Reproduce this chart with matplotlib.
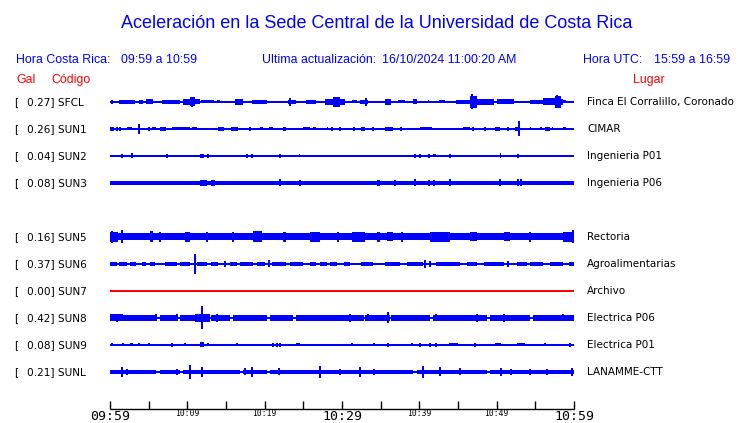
import matplotlib
matplotlib.use("Agg")
import matplotlib.pyplot as plt

# station table (row order, SUN4 slot left empty)
codes = ["SFCL", "SUN1", "SUN2", "SUN3", "SUN5", "SUN6", "SUN7", "SUN8", "SUN9", "SUNL"]
gal = [0.27, 0.26, 0.04, 0.08, 0.16, 0.37, 0.00, 0.42, 0.08, 0.21]
places = ["Finca El Corralillo, Coronado", "CIMAR", "Ingenieria P01", "Ingenieria P06",
          "Rectoria", "Agroalimentarias", "Archivo", "Electrica P06", "Electrica P01", "LANAMME-CTT"]

# trace envelopes: minutes after 09:59, relative amplitude
base_amp = [1.0, 0.6, 0.6, 1.8, 3.5, 0.7, 0.0, 1.2, 0.6, 1.0]

sfcl_blocks = [(0.1, 0.4, 2), (1.1, 3.2, 2), (3.7, 4.3, 2), (4.7, 5.6, 2.5), (6.7, 9.0, 2),
               (9.5, 10.3, 3), (10.3, 11.0, 4.5), (11.0, 11.6, 2.5), (11.8, 13.4, 1.5),
               (13.8, 14.2, 1.5), (16.2, 17.2, 3), (18.3, 20.3, 2), (23.0, 24.1, 2),
               (25.4, 26.7, 2), (27.8, 28.9, 3), (28.9, 29.7, 5), (29.7, 30.4, 3),
               (31.3, 31.9, 1.5), (32.3, 33.4, 2), (35.6, 36.4, 3), (37.3, 38.1, 1.5),
               (39.2, 39.7, 2.5), (41.1, 41.3, 1.5), (42.5, 43.3, 1.5), (44.8, 46.6, 2),
               (46.6, 47.4, 6), (47.4, 49.6, 3), (50.0, 52.2, 2.5), (54.3, 56.0, 2),
               (56.0, 57.5, 3.5), (57.5, 58.3, 6), (58.3, 58.6, 3), (58.6, 59.0, 1.5)]
sfcl_spikes = [(10.6, 4.7), (23.3, 4.3), (29.3, 5), (33.1, 4), (46.8, 7.5), (57.8, 6.5)]

sun1_blocks = [(2.2, 2.8, 1.5), (5.4, 6.0, 1.5), (6.5, 7.3, 2), (8.0, 10.3, 1.5), (10.6, 11.2, 1.5),
               (14.0, 14.7, 2), (15.7, 16.6, 2), (19.4, 19.8, 1.5), (20.5, 21.1, 1.5),
               (22.4, 22.8, 2), (25.0, 25.9, 1.5), (26.3, 26.7, 1.5), (28.0, 28.2, 1.5),
               (32.5, 33.0, 2), (35.6, 36.6, 2), (37.5, 37.7, 2), (40.1, 41.6, 1.5),
               (45.7, 46.6, 1.5), (49.8, 50.4, 2), (52.4, 53.0, 2), (54.3, 54.5, 1.5),
               (55.6, 55.8, 1.5), (56.3, 56.9, 2), (57.1, 57.3, 1.5), (58.6, 59.0, 1.5)]
sun1_spikes = [(0.1, 2), (0.4, 2), (0.9, 2), (1.3, 2), (3.7, 5), (5.0, 2), (18.1, 2), (28.7, 2),
               (29.7, 2), (31.6, 2), (34.05, 2), (47.0, 2), (48.5, 2), (51.5, 2), (52.9, 7.5)]

sun2_blocks = [(11.6, 12.1, 2), (24.4, 24.6, 1.5), (41.8, 42.2, 1.5), (50.4, 50.6, 2.5)]
sun2_spikes = [(1.6, 2), (2.9, 2.5), (7.4, 2), (12.7, 2), (17.7, 2), (18.3, 2), (22.0, 2),
               (39.4, 2), (40.1, 2), (41.3, 2), (44.0, 2), (52.8, 2)]

sun3_blocks = [(11.6, 12.5, 3), (13.1, 13.6, 3), (34.5, 34.9, 3)]
sun3_spikes = [(22.0, 3.5), (24.6, 3), (36.9, 3), (39.4, 3.5), (41.3, 3), (41.9, 3),
               (44.0, 3.5), (50.4, 3.5), (52.8, 3.5), (53.2, 3.5)]

sun5_blocks = [(0.0, 1.0, 5), (5.2, 5.6, 5.5), (9.7, 10.3, 5), (18.5, 19.6, 5.5), (22.4, 22.8, 5),
               (25.9, 27.2, 5), (31.3, 33.0, 5), (34.5, 34.9, 5), (35.8, 36.6, 4.5),
               (41.4, 44.0, 5), (46.6, 47.4, 4.5), (50.9, 51.7, 4.5), (58.6, 60.0, 5)]
sun5_spikes = [(0.2, 6), (1.6, 6.5), (6.5, 5), (12.5, 5), (15.9, 5), (29.5, 5), (37.7, 5),
               (54.3, 5), (59.9, 6.5)]

sun6_blocks = [(0.0, 0.9, 2), (1.1, 2.2, 2), (2.6, 3.4, 2), (4.1, 4.7, 2), (5.2, 5.8, 2),
               (7.1, 8.6, 2), (9.1, 10.3, 2), (11.2, 12.5, 2), (13.1, 14.0, 2), (15.5, 16.4, 2),
               (16.8, 18.5, 2), (19.0, 20.0, 2), (20.9, 22.8, 2), (23.3, 25.0, 2), (25.9, 26.7, 2),
               (27.2, 28.0, 2), (28.4, 29.3, 2), (30.2, 31.0, 2), (32.5, 34.0, 2), (35.6, 37.5, 2),
               (38.4, 40.5, 2), (42.2, 45.3, 2), (46.1, 47.4, 2), (48.3, 50.9, 2), (52.6, 53.9, 2),
               (54.3, 56.0, 2), (56.9, 58.6, 2), (59.3, 60.0, 2)]
sun6_spikes = [(11.0, 10), (14.9, 3), (20.5, 3.5), (40.7, 4), (41.4, 3), (51.5, 3)]

sun7_blocks = []
sun7_spikes = []

sun8_blocks = [(0.0, 1.7, 3.5), (1.7, 6.0, 2.6), (6.5, 8.6, 2.6), (9.1, 11.0, 3), (11.0, 12.9, 4),
               (13.1, 15.5, 2.6), (15.9, 20.3, 2.6), (20.7, 23.7, 2.6), (24.1, 32.8, 2.6),
               (33.0, 36.2, 2.6), (36.4, 41.4, 2.6), (41.8, 48.7, 2.6), (49.1, 54.3, 2.6),
               (54.7, 60.0, 2.6)]
sun8_spikes = [(0.9, 4), (6.0, 3.5), (8.6, 3.5), (11.9, 11.5), (13.8, 4), (31.0, 4), (33.4, 3.5),
               (36.0, 5.5), (42.2, 3.5), (47.4, 4), (50.9, 4), (58.6, 3.5)]

sun9_blocks = [(2.6, 3.0, 1.5), (11.6, 12.1, 2.5), (24.1, 24.6, 1.5), (43.8, 45.0, 1.5),
               (49.8, 50.6, 1.5), (52.6, 53.7, 1.5)]
sun9_spikes = [(0.2, 1.5), (1.7, 1.5), (3.7, 1.5), (5.0, 1.5), (8.0, 2), (9.7, 1.5), (12.7, 1.5),
               (16.4, 1.5), (21.1, 2), (21.6, 2), (22.0, 2), (31.3, 1.5), (34.1, 1.5), (36.0, 2),
               (39.0, 1.5), (40.1, 2), (41.4, 2), (42.2, 2), (47.2, 2), (56.3, 1.5), (59.5, 2)]

sunl_blocks = [(0.0, 6.0, 2), (6.5, 9.1, 2), (9.5, 16.8, 2), (17.2, 20.3, 2), (20.7, 29.7, 2),
               (29.7, 39.2, 2), (39.7, 48.7, 2), (49.1, 60.0, 2)]
sunl_spikes = [(1.6, 5), (2.2, 3), (8.6, 3), (10.3, 7), (11.9, 5), (17.5, 3.5), (18.3, 5),
               (21.8, 3.5), (27.2, 6), (29.7, 3), (32.3, 5), (34.1, 3), (40.5, 6), (42.7, 4.5),
               (45.3, 3.5), (50.6, 4), (51.9, 3), (54.3, 3), (56.5, 3), (59.7, 4)]

blocks = [sfcl_blocks, sun1_blocks, sun2_blocks, sun3_blocks, sun5_blocks,
          sun6_blocks, sun7_blocks, sun8_blocks, sun9_blocks, sunl_blocks]
spikes = [sfcl_spikes, sun1_spikes, sun2_spikes, sun3_spikes, sun5_spikes,
          sun6_spikes, sun7_spikes, sun8_spikes, sun9_spikes, sunl_spikes]

tick_minutes = list(range(0, 61, 5))
tick_labels = {0: "09:59", 10: "10:09", 20: "10:19", 30: "10:29", 40: "10:39", 50: "10:49", 60: "10:59"}

W, H = 740, 423
X0, X1 = 110, 574      # pixel span of the hour
ROW0, ROWH = 102, 27   # first trace centre and row spacing
ppm = (X1 - X0) / 60.0
PX = 0.72              # one pixel in points

fig = plt.figure(figsize=(W / 100, H / 100), dpi=100)
ax = fig.add_axes([0, 0, 1, 1])
ax.set_xlim(-X0 / ppm, 60 + (W - X1) / ppm)
ax.set_ylim((H - ROW0) / ROWH, -ROW0 / ROWH)
ax.axis("off")

BLUE = "#0000ff"
amp_scale = 1.0 / ROWH

for i, code in enumerate(codes):
    row = i + (1 if i >= 4 else 0)
    if code == "SUN7":
        ax.hlines(row, 0, 60, color="red", lw=2 * PX, antialiased=False)
        continue
    b = base_amp[i] * amp_scale
    if base_amp[i] < 0.8:
        ax.hlines(row, 0, 60, color=BLUE, lw=2 * PX, antialiased=False)
    else:
        ax.bar(0, 2 * b, width=60, bottom=row - b, align="edge", color=BLUE, lw=0,
               antialiased=False)
    for t0, t1, a in blocks[i]:
        a = a * amp_scale
        ax.bar(t0, 2 * a, width=max(t1 - t0, 0.12), bottom=row - a, align="edge",
               color=BLUE, lw=0, antialiased=False)
    for t, a in spikes[i]:
        a = a * amp_scale
        ax.vlines(t, row - a, row + a, color=BLUE, lw=2 * PX, antialiased=False)

# time axis
axis_y = (409 - ROW0) / ROWH
ax.hlines(axis_y, 0, 60, color="black", lw=1.0)
ax.vlines(tick_minutes, axis_y - 8 / ROWH, axis_y, color="black", lw=1.0)
for m, lab in tick_labels.items():
    big = m in (0, 30, 60)
    ax.text(m, axis_y + (1 if big else 0) / ROWH, lab, ha="center", va="top",
            family="DejaVu Sans Mono", fontsize=9.5 if big else 5.8)


def fx(x):
    return x / W


def fy(y):
    return 1 - y / H


head = dict(va="center", color=BLUE, family="Liberation Sans", fontsize=8.9)
fig.text(fx(377), fy(23), "Aceleración en la Sede Central de la Universidad de Costa Rica",
         ha="center", va="center", color=BLUE, family="Liberation Sans", fontsize=13)
fig.text(fx(16), fy(60), "Hora Costa Rica:", **head)
fig.text(fx(121), fy(60), "09:59 a 10:59", **head)
fig.text(fx(262), fy(60), "Ultima actualización:", **head)
fig.text(fx(382), fy(60), "16/10/2024 11:00:20 AM", **head)
fig.text(fx(583), fy(60), "Hora UTC:", **head)
fig.text(fx(654), fy(60), "15:59 a 16:59", **head)

red = dict(va="center", color="red", family="Liberation Sans", fontsize=8.9)
fig.text(fx(16), fy(80), "Gal", **red)
fig.text(fx(51), fy(80), "Código", **red)
fig.text(fx(633), fy(80), "Lugar", **red)

for i, code in enumerate(codes):
    row = i + (1 if i >= 4 else 0)
    y = ROW0 + row * ROWH
    fig.text(fx(14), fy(y), "[", ha="left", va="center", fontsize=7.6)
    fig.text(fx(27), fy(y), f"{gal[i]:.2f}] {code}", ha="left", va="center", fontsize=7.6)
    fig.text(fx(587), fy(y), places[i], ha="left", va="center", fontsize=7.5)

fig.savefig("out.png", dpi=100)
